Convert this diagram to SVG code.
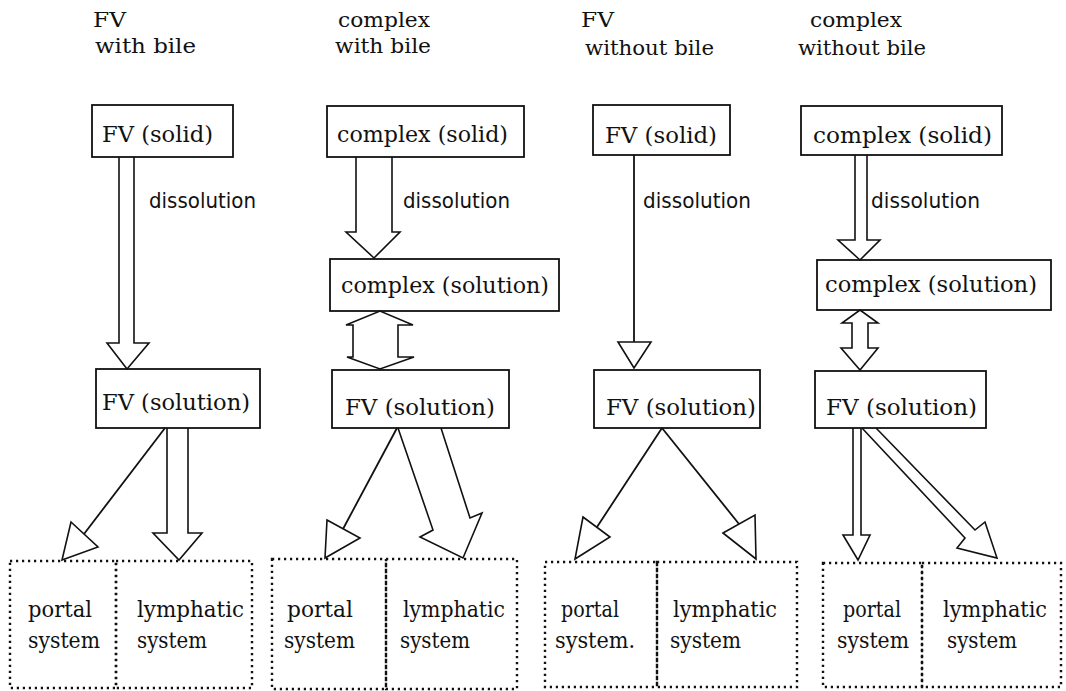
<svg xmlns="http://www.w3.org/2000/svg" width="1066" height="691" viewBox="0 0 1066 691">
<style>
.bg{fill:#fff}
.box{fill:none;stroke:#111;stroke-width:1.8}
.dot{fill:none;stroke:#111;stroke-width:2.4;stroke-dasharray:2.2 3.8}
.arr{fill:#fff;stroke:#111;stroke-width:1.6;stroke-linejoin:miter}
.ln{fill:none;stroke:#111;stroke-width:1.8}
.t{font-family:"DejaVu Serif","Liberation Serif",serif;font-size:23px;fill:#111}
.h{font-family:"DejaVu Serif","Liberation Serif",serif;font-size:21px;fill:#111}
.d{font-family:"DejaVu Sans","Liberation Sans",sans-serif;font-size:21px;fill:#111}
</style>
<rect class="bg" x="0" y="0" width="1066" height="691"/>

<g id="titles">
<text class="h" x="93" y="27" textLength="33" lengthAdjust="spacingAndGlyphs">FV</text>
<text class="h" x="95" y="53" textLength="101" lengthAdjust="spacingAndGlyphs">with bile</text>
<text class="h" x="338" y="27" textLength="92" lengthAdjust="spacingAndGlyphs">complex</text>
<text class="h" x="335" y="53" textLength="96" lengthAdjust="spacingAndGlyphs">with bile</text>
<text class="h" x="581" y="27" textLength="33" lengthAdjust="spacingAndGlyphs">FV</text>
<text class="h" x="585" y="55" textLength="129" lengthAdjust="spacingAndGlyphs">without bile</text>
<text class="h" x="810" y="27" textLength="92" lengthAdjust="spacingAndGlyphs">complex</text>
<text class="h" x="798" y="55" textLength="128" lengthAdjust="spacingAndGlyphs">without bile</text>
</g>

<g id="connectors">
<!-- column 1 -->
<path class="arr" d="M119,157 V343 H107 L127,369 L149,343 H134 V157"/>
<line class="ln" x1="165" y1="428" x2="84" y2="534"/>
<polygon class="arr" points="71,522 98,547 62,560"/>
<path class="arr" d="M167,428 V533 H153 L179,560 L202,533 H188 V428"/>
<!-- column 2 -->
<path class="arr" d="M356,157 V232 H346 L374,258 L400,232 H392 V157"/>
<path class="arr" d="M353,325 H346 L380,311 L413,325 H398 V357 H414 L380,369 L347,357 H353 Z"/>
<line class="ln" x1="397" y1="428" x2="343" y2="529"/>
<polygon class="arr" points="327,520 360,538 325,558"/>
<path class="arr" d="M398,428 L433,530 L420,537 L463,558 L482,513 L470,518 L441,428"/>
<!-- column 3 -->
<line class="ln" x1="634" y1="155" x2="634" y2="342"/>
<polygon class="arr" points="618,342 651,342 634,368"/>
<line class="ln" x1="662" y1="428" x2="597" y2="527"/>
<polygon class="arr" points="583,517 610,537 575,559"/>
<line class="ln" x1="662" y1="428" x2="739" y2="524"/>
<polygon class="arr" points="723,533 755,515 756,559"/>
<!-- column 4 -->
<path class="arr" d="M855,155 V240 H838 L860,260 L880,240 H867 V155"/>
<path class="arr" d="M852,323 H842 L860,310 L878,323 H868 V348 H878 L860,370 L841,348 H852 Z"/>
<path class="arr" d="M853,428 V535 H843 L858,560 L870,535 H861 V428"/>
<path class="arr" d="M862,428 L965,538 L957,548 L997,558 L985,522 L975,530 L876,428"/>
</g>

<g id="dissolution-labels">
<text class="d" x="149" y="208" textLength="107" lengthAdjust="spacingAndGlyphs">dissolution</text>
<text class="d" x="403" y="208" textLength="107" lengthAdjust="spacingAndGlyphs">dissolution</text>
<text class="d" x="643" y="208" textLength="108" lengthAdjust="spacingAndGlyphs">dissolution</text>
<text class="d" x="871" y="208" textLength="109" lengthAdjust="spacingAndGlyphs">dissolution</text>
</g>

<!-- column 1 nodes -->
<g id="c1-fv-solid">
<rect class="box" x="92" y="105" width="141" height="52"/>
<text class="t" x="102" y="142" textLength="111" lengthAdjust="spacingAndGlyphs">FV (solid)</text>
</g>
<g id="c1-fv-solution">
<rect class="box" x="96" y="369" width="164" height="59"/>
<text class="t" x="102" y="410" textLength="148" lengthAdjust="spacingAndGlyphs">FV (solution)</text>
</g>
<g id="c1-portal">
<rect class="dot" x="10" y="561" width="106" height="127"/>
<text class="t" x="28" y="617" textLength="64" lengthAdjust="spacingAndGlyphs">portal</text>
<text class="t" x="28" y="648" textLength="72" lengthAdjust="spacingAndGlyphs">system</text>
</g>
<g id="c1-lymphatic">
<rect class="dot" x="116" y="561" width="136" height="127"/>
<text class="t" x="137" y="617" textLength="107" lengthAdjust="spacingAndGlyphs">lymphatic</text>
<text class="t" x="137" y="648" textLength="70" lengthAdjust="spacingAndGlyphs">system</text>
</g>

<!-- column 2 nodes -->
<g id="c2-complex-solid">
<rect class="box" x="327" y="106" width="197" height="51"/>
<text class="t" x="337" y="142" textLength="171" lengthAdjust="spacingAndGlyphs">complex (solid)</text>
</g>
<g id="c2-complex-solution">
<rect class="box" x="330" y="259" width="229" height="52"/>
<text class="t" x="341" y="293" textLength="208" lengthAdjust="spacingAndGlyphs">complex (solution)</text>
</g>
<g id="c2-fv-solution">
<rect class="box" x="332" y="370" width="177" height="58"/>
<text class="t" x="345" y="415" textLength="150" lengthAdjust="spacingAndGlyphs">FV (solution)</text>
</g>
<g id="c2-portal">
<rect class="dot" x="272" y="559" width="114" height="130"/>
<text class="t" x="287" y="617" textLength="66" lengthAdjust="spacingAndGlyphs">portal</text>
<text class="t" x="284" y="648" textLength="71" lengthAdjust="spacingAndGlyphs">system</text>
</g>
<g id="c2-lymphatic">
<rect class="dot" x="386" y="559" width="131" height="130"/>
<text class="t" x="403" y="617" textLength="102" lengthAdjust="spacingAndGlyphs">lymphatic</text>
<text class="t" x="400" y="648" textLength="70" lengthAdjust="spacingAndGlyphs">system</text>
</g>

<!-- column 3 nodes -->
<g id="c3-fv-solid">
<rect class="box" x="593" y="105" width="137" height="50"/>
<text class="t" x="605" y="143" textLength="112" lengthAdjust="spacingAndGlyphs">FV (solid)</text>
</g>
<g id="c3-fv-solution">
<rect class="box" x="594" y="370" width="166" height="58"/>
<text class="t" x="606" y="415" textLength="150" lengthAdjust="spacingAndGlyphs">FV (solution)</text>
</g>
<g id="c3-portal">
<rect class="dot" x="545" y="562" width="112" height="125"/>
<text class="t" x="561" y="617" textLength="58" lengthAdjust="spacingAndGlyphs">portal</text>
<text class="t" x="555" y="648" textLength="80" lengthAdjust="spacingAndGlyphs">system.</text>
</g>
<g id="c3-lymphatic">
<rect class="dot" x="657" y="562" width="140" height="125"/>
<text class="t" x="673" y="617" textLength="104" lengthAdjust="spacingAndGlyphs">lymphatic</text>
<text class="t" x="670" y="648" textLength="71" lengthAdjust="spacingAndGlyphs">system</text>
</g>

<!-- column 4 nodes -->
<g id="c4-complex-solid">
<rect class="box" x="801" y="106" width="201" height="49"/>
<text class="t" x="813" y="143" textLength="179" lengthAdjust="spacingAndGlyphs">complex (solid)</text>
</g>
<g id="c4-complex-solution">
<rect class="box" x="817" y="260" width="234" height="50"/>
<text class="t" x="825" y="292" textLength="212" lengthAdjust="spacingAndGlyphs">complex (solution)</text>
</g>
<g id="c4-fv-solution">
<rect class="box" x="815" y="371" width="171" height="57"/>
<text class="t" x="826" y="415" textLength="151" lengthAdjust="spacingAndGlyphs">FV (solution)</text>
</g>
<g id="c4-portal">
<rect class="dot" x="823" y="563" width="99" height="124"/>
<text class="t" x="843" y="617" textLength="58" lengthAdjust="spacingAndGlyphs">portal</text>
<text class="t" x="837" y="648" textLength="72" lengthAdjust="spacingAndGlyphs">system</text>
</g>
<g id="c4-lymphatic">
<rect class="dot" x="922" y="563" width="139" height="124"/>
<text class="t" x="943" y="617" textLength="104" lengthAdjust="spacingAndGlyphs">lymphatic</text>
<text class="t" x="947" y="648" textLength="70" lengthAdjust="spacingAndGlyphs">system</text>
</g>
</svg>
